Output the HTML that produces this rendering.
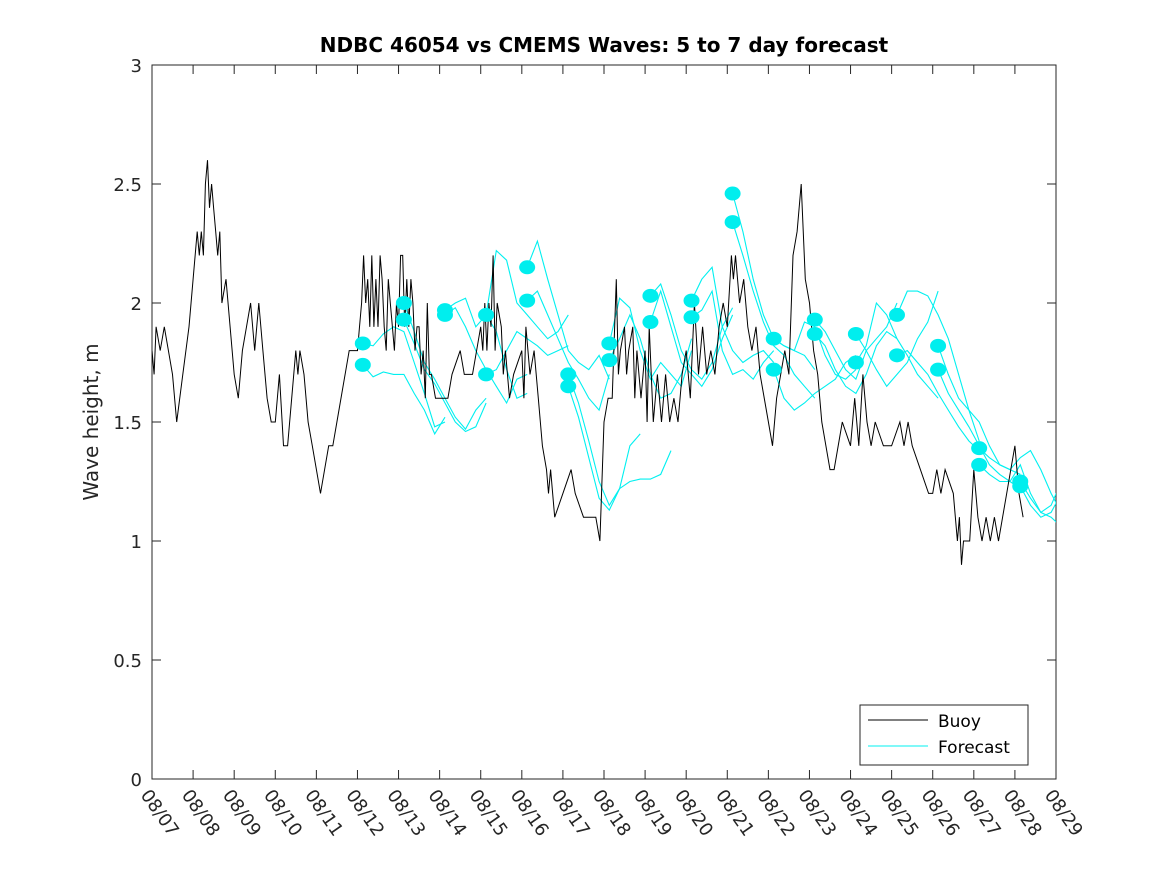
<!DOCTYPE html>
<html><head><meta charset="utf-8"><style>
body{margin:0;background:#fff;}
svg{display:block;font-family:"DejaVu Sans","Liberation Sans",sans-serif;}
</style></head><body>
<svg id="chart" width="1167" height="875">
<defs><clipPath id="clip"><rect x="152" y="65" width="904" height="714"/></clipPath></defs>
<rect x="0" y="0" width="1167" height="875" fill="#fff"/>
<g id="plot"></g>
</svg>
<script>
const xTickLabels=["08/07","08/08","08/09","08/10","08/11","08/12","08/13","08/14","08/15","08/16","08/17","08/18","08/19","08/20","08/21","08/22","08/23","08/24","08/25","08/26","08/27","08/28","08/29"];
const yTicks=[0,0.5,1,1.5,2,2.5,3];
const yTickLabels=["0","0.5","1","1.5","2","2.5","3"];
const buoyDays=[
0,0.05,0.1,0.2,0.3,0.4,0.5,0.6,0.75,0.9,1.0,1.1,1.15,1.2,1.25,1.3,1.35,1.4,1.45,1.5,1.55,1.6,1.65,1.7,1.8,1.9,
2.0,2.1,2.2,2.3,2.4,2.5,2.6,2.7,2.8,2.9,
3.0,3.1,3.2,3.3,3.4,3.5,3.55,3.6,3.7,3.8,3.9,
4.0,4.1,4.2,4.3,4.4,4.5,4.7,4.8,4.9,
5.0,5.05,5.1,5.15,5.2,5.25,5.3,5.35,5.4,5.45,5.5,5.55,5.6,5.65,5.7,5.75,5.8,5.85,5.9,5.95,
6.0,6.05,6.1,6.15,6.2,6.25,6.3,6.35,6.4,6.45,6.5,6.55,6.6,6.65,6.7,6.75,6.8,6.9,
7.0,7.2,7.3,7.5,7.6,7.8,8.0,8.05,8.1,8.15,8.2,8.25,8.3,8.35,8.4,8.5,8.55,8.6,8.7,8.8,
9.0,9.05,9.1,9.2,9.3,9.4,9.5,9.6,9.65,9.7,9.8,10.0,10.2,10.3,10.5,10.8,10.9,
11.0,11.1,11.2,11.3,11.35,11.4,11.5,11.55,11.6,11.7,11.75,11.8,11.9,
12.0,12.05,12.1,12.2,12.3,12.4,12.5,12.6,12.7,12.8,12.9,
13.0,13.1,13.2,13.3,13.4,13.5,13.6,13.7,13.8,13.9,14.0,14.1,14.15,14.2,14.3,14.4,14.5,14.6,14.7,14.8,
15.0,15.1,15.2,15.3,15.4,15.5,15.6,15.7,15.8,15.9,16.0,16.1,16.2,16.3,16.4,16.5,16.6,16.8,
17.0,17.1,17.2,17.3,17.4,17.5,17.6,17.8,18.0,18.2,18.3,18.4,18.5,18.7,18.9,
19.0,19.1,19.2,19.3,19.5,19.6,19.65,19.7,19.75,19.8,19.9,
20.0,20.1,20.2,20.3,20.4,20.5,20.6,20.7,20.8,20.9,21.0,21.1,21.2];
const buoyVals=[
1.8,1.7,1.9,1.8,1.9,1.8,1.7,1.5,1.7,1.9,2.1,2.3,2.2,2.3,2.2,2.5,2.6,2.4,2.5,2.4,2.3,2.2,2.3,2.0,2.1,1.9,
1.7,1.6,1.8,1.9,2.0,1.8,2.0,1.8,1.6,1.5,
1.5,1.7,1.4,1.4,1.6,1.8,1.7,1.8,1.7,1.5,1.4,
1.3,1.2,1.3,1.4,1.4,1.5,1.7,1.8,1.8,
1.8,1.9,2.0,2.2,2.0,2.1,1.9,2.2,1.9,2.1,1.9,2.2,2.1,1.9,1.8,2.1,2.0,1.9,1.8,2.0,
1.9,2.2,2.2,1.9,2.1,1.9,2.1,2.0,1.8,1.9,1.9,1.7,1.8,1.6,2.0,1.7,1.7,1.6,
1.6,1.6,1.7,1.8,1.7,1.7,1.9,1.8,2.0,1.8,2.0,1.9,2.2,1.8,2.0,1.9,1.7,1.8,1.6,1.7,
1.8,1.6,1.9,1.7,1.8,1.6,1.4,1.3,1.2,1.3,1.1,1.2,1.3,1.2,1.1,1.1,1.0,
1.5,1.6,1.6,2.1,1.7,1.8,1.9,1.7,1.8,1.9,1.6,1.8,1.6,
1.8,1.5,1.9,1.5,1.7,1.5,1.7,1.5,1.6,1.5,1.7,
1.8,1.6,2.0,1.7,1.9,1.7,1.8,1.7,1.9,2.0,1.9,2.2,2.1,2.2,2.0,2.1,1.9,1.8,1.9,1.7,
1.5,1.4,1.6,1.7,1.8,1.7,2.2,2.3,2.5,2.1,2.0,1.8,1.7,1.5,1.4,1.3,1.3,1.5,
1.4,1.6,1.4,1.7,1.5,1.4,1.5,1.4,1.4,1.5,1.4,1.5,1.4,1.3,1.2,
1.2,1.3,1.2,1.3,1.2,1.0,1.1,0.9,1.0,1.0,1.0,
1.3,1.1,1.0,1.1,1.0,1.1,1.0,1.1,1.2,1.3,1.4,1.2,1.1];
const fcStartDays=[5.13,5.13,6.13,6.13,7.13,7.13,8.13,8.13,9.13,9.13,10.13,10.13,11.13,11.13,12.13,12.13,13.13,13.13,14.13,14.13,15.13,15.13,16.13,16.13,17.13,17.13,18.13,18.13,19.13,19.13,20.13,20.13,21.13,21.13];
const fcVals=[
[1.83,1.82,1.87,1.90,1.88,1.75,1.62,1.48,1.50],
[1.74,1.69,1.71,1.70,1.70,1.62,1.55,1.45,1.52],
[2.00,1.88,1.75,1.68,1.60,1.52,1.47,1.55,1.60],
[1.93,1.83,1.72,1.66,1.58,1.50,1.46,1.48,1.58],
[1.97,2.00,2.02,1.90,1.95,1.88,1.72,1.60,1.62],
[1.95,1.98,1.90,1.80,1.72,1.65,1.58,1.68,1.70],
[1.95,2.22,2.18,2.00,1.95,1.90,1.85,1.88,1.95],
[1.70,1.72,1.80,1.88,1.85,1.82,1.78,1.80,1.82],
[2.15,2.26,2.10,1.95,1.80,1.75,1.72,1.78,1.68],
[2.01,2.05,1.95,1.85,1.75,1.68,1.60,1.55,1.70],
[1.70,1.58,1.42,1.25,1.15,1.22,1.40,1.45],
[1.65,1.52,1.35,1.18,1.13,1.22,1.25,1.26,1.26,1.28,1.38],
[1.83,2.02,1.98,1.80,1.68,1.75,1.70,1.65,1.80],
[1.76,1.85,1.95,1.85,1.70,1.60,1.62,1.70,1.85],
[2.03,2.08,1.95,1.80,1.72,1.68,1.75,1.90,1.98],
[1.92,2.05,1.90,1.75,1.70,1.65,1.72,1.85,1.95],
[2.01,2.10,2.15,1.90,1.80,1.75,1.78,1.80,1.75],
[1.94,1.97,2.05,1.80,1.70,1.72,1.68,1.75,1.80],
[2.46,2.30,2.10,1.95,1.85,1.82,1.80,1.78,1.72],
[2.34,2.20,2.05,1.92,1.82,1.78,1.70,1.65,1.60],
[1.85,1.82,1.80,1.92,1.90,1.78,1.70,1.68,1.72],
[1.72,1.60,1.55,1.58,1.62,1.65,1.68,1.75,1.78],
[1.93,1.88,1.80,1.72,1.68,1.80,1.85,1.90,2.00],
[1.87,1.82,1.72,1.65,1.62,1.70,1.82,1.88,1.85],
[1.87,1.80,1.72,1.65,1.70,1.75,1.85,1.92,2.05],
[1.75,1.82,2.00,1.95,1.85,1.78,1.70,1.65,1.60],
[1.95,2.05,2.05,2.03,1.95,1.85,1.70,1.55,1.42],
[1.78,1.80,1.75,1.70,1.62,1.55,1.48,1.42,1.38],
[1.82,1.70,1.60,1.55,1.50,1.40,1.32,1.30,1.28],
[1.72,1.62,1.55,1.48,1.40,1.32,1.28,1.25,1.22],
[1.39,1.35,1.32,1.30,1.35,1.38,1.30,1.20,1.12],
[1.32,1.28,1.25,1.25,1.32,1.20,1.12,1.10,1.06],
[1.25,1.18,1.12,1.15,1.25,1.32],
[1.23,1.15,1.10,1.12,1.20,1.30]];
const fcStep=0.25;

const X0=152,X1=1056,Y0=779,Y1=65,NDAYS=22,YMAX=3;
const xs=d=>X0+(X1-X0)*d/NDAYS;
const ys=v=>Y0-(Y0-Y1)*v/YMAX;
const NS="http://www.w3.org/2000/svg";
const g=document.getElementById('plot');
function mk(t,a,p){const e=document.createElementNS(NS,t);for(const k in a)e.setAttribute(k,a[k]);(p||g).appendChild(e);return e;}

const frame=mk('rect',{x:X0,y:Y1,width:X1-X0,height:Y0-Y1,fill:'#fff',stroke:'#262626','stroke-width':1});



xTickLabels.forEach((lab,i)=>{
  const x=xs(i);
  mk('line',{x1:x,y1:Y0,x2:x,y2:Y0-9,stroke:'#262626'});
  mk('line',{x1:x,y1:Y1,x2:x,y2:Y1+9,stroke:'#262626'});
  const t=mk('text',{x:x-12,y:Y0+16,'font-size':18,fill:'#262626',transform:`rotate(55 ${x-12} ${Y0+16})`});
  t.textContent=lab;
  
  
});
yTicks.forEach((v,i)=>{
  const y=ys(v);
  mk('line',{x1:X0,y1:y,x2:X0+9,y2:y,stroke:'#262626'});
  mk('line',{x1:X1,y1:y,x2:X1-9,y2:y,stroke:'#262626'});
  const t=mk('text',{x:X0-10,y:y+7,'font-size':18,fill:'#262626','text-anchor':'end'});
  t.textContent=yTickLabels[i];
  
  
});

const cg=mk('g',{'clip-path':'url(#clip)'});


fcVals.forEach((vals,i)=>{
  const pts=vals.map((v,k)=>xs(fcStartDays[i]+k*fcStep).toFixed(1)+','+ys(v).toFixed(1)).join(' ');
  const l=mk('polyline',{points:pts,fill:'none',stroke:'#00f0f0','stroke-width':1.1},cg);
  
  
});
const bp=buoyDays.map((d,i)=>xs(d).toFixed(1)+','+ys(buoyVals[i]).toFixed(1)).join(' ');
const bl=mk('polyline',{points:bp,fill:'none',stroke:'#000','stroke-width':1},cg);


fcVals.forEach((vals,i)=>{
  const c=mk('ellipse',{cx:xs(fcStartDays[i]),cy:ys(vals[0]),rx:8,ry:7,fill:'#00eeee'},cg);
  
  
});

const title=mk('text',{x:604,y:52,'font-size':20,'font-weight':'bold','text-anchor':'middle',fill:'#000'});
title.textContent='NDBC 46054 vs CMEMS Waves: 5 to 7 day forecast';


const yl=mk('text',{x:98,y:422,'font-size':20,'text-anchor':'middle',fill:'#262626',transform:'rotate(-90 98 422)'});
yl.textContent='Wave height, m';



const lg=mk('g',{});


mk('rect',{x:860,y:705,width:168,height:60,fill:'#fff',stroke:'#262626'},lg);
const e1=mk('g',{},lg);


mk('line',{x1:868,y1:720,x2:928,y2:720,stroke:'#000'},e1);
const t1=mk('text',{x:938,y:727,'font-size':17,fill:'#000'},e1);t1.textContent='Buoy';
const e2=mk('g',{},lg);


mk('line',{x1:868,y1:746,x2:928,y2:746,stroke:'#00f0f0'},e2);
const t2=mk('text',{x:938,y:753,'font-size':17,fill:'#000'},e2);t2.textContent='Forecast';
</script>
</body></html>
